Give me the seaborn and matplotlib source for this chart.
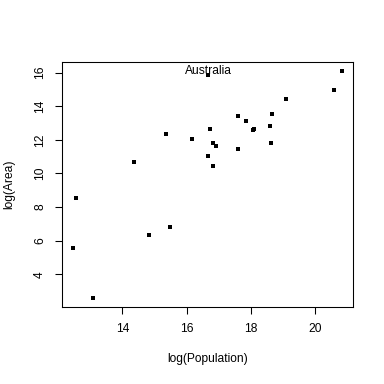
import matplotlib
matplotlib.use("Agg")
import matplotlib.pyplot as plt
import seaborn as sns
import pandas as pd

# valores (log da populacao e log da area)
log_pop = [16.68, 20.84, 20.59, 19.09, 18.65, 17.59, 17.87, 16.74, 18.59,
           18.06, 18.09, 16.16, 15.37, 16.84, 16.93, 18.62, 17.59, 16.68,
           16.84, 14.37, 12.56, 12.46, 13.09, 14.84, 15.49]
log_area = [15.86, 16.08, 14.96, 14.42, 13.53, 13.41, 13.12, 12.64, 12.82,
            12.58, 12.64, 12.05, 12.34, 11.81, 11.63, 11.81, 11.45, 11.04,
            10.45, 10.68, 8.55, 5.58, 2.61, 6.35, 6.82]
rotulo = "Australia"
rotulo_x, rotulo_y = 16.68, 16.08
xticks = [14, 16, 18, 20]
yticks = [4, 6, 8, 10, 12, 14, 16]

sns.set_style("white")
plt.rcParams["font.family"] = ["Liberation Sans", "DejaVu Sans"]
plt.rcParams["text.color"] = "black"
plt.rcParams["axes.labelcolor"] = "black"
plt.rcParams["xtick.color"] = "black"
plt.rcParams["ytick.color"] = "black"

df = pd.DataFrame({"x": log_pop, "y": log_area})

fig = plt.figure(figsize=(4, 4), dpi=96)
ax = fig.add_axes([0.162, 0.201, 0.756, 0.637])
sns.scatterplot(data=df, x="x", y="y", ax=ax, marker="s", s=8,
                color="black", linewidth=0)
ax.text(rotulo_x, rotulo_y, rotulo, ha="center", va="center", fontsize=9)

# limites no estilo do R (4% de folga)
dx = max(log_pop) - min(log_pop)
dy = max(log_area) - min(log_area)
ax.set_xlim(min(log_pop) - 0.04 * dx, max(log_pop) + 0.04 * dx)
ax.set_ylim(min(log_area) - 0.04 * dy, max(log_area) + 0.04 * dy)

ax.set_xticks(xticks)
ax.set_yticks(yticks)
ax.set_yticklabels([str(t) for t in yticks], rotation=90, va="center")
ax.tick_params(direction="out", length=5, width=0.8, color="black",
               labelsize=9, pad=7, bottom=True, left=True)
for s in ax.spines.values():
    s.set_color("black")
    s.set_linewidth(0.8)
ax.set_xlabel("log(Population)", fontsize=9, labelpad=14)
ax.set_ylabel("log(Area)", fontsize=9, labelpad=14)

fig.savefig("out.png", dpi=96)
